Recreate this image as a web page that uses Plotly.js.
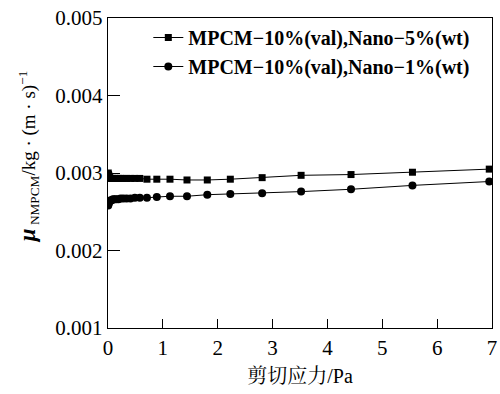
<!DOCTYPE html>
<html><head><meta charset="utf-8">
<script src="https://cdn.plot.ly/plotly-3.0.1.min.js"></script>
<style>body{margin:0;background:#fff}#chart{width:500px;height:394px}</style>
</head><body><div id="chart"></div>
<script>
var seriesNames = ['MPCM\u221210%(val),Nano\u22125%(wt)', 'MPCM\u221210%(val),Nano\u22121%(wt)'];
var xNano5 = [0.005,0.01,0.02,0.03,0.05,0.07,0.09,0.12,0.15,0.19,0.23,0.28,0.34,0.41,0.49,0.58,0.71,0.89,1.13,1.44,1.81,2.23,2.81,3.52,4.43,5.55,6.95];
var yNano5 = [0.00300,0.00298,0.00296,0.00294,0.00293,0.00293,0.00293,0.00293,0.00293,0.00293,0.00293,0.00293,0.00293,0.00293,0.00293,0.00293,0.00292,0.00292,0.00292,0.00291,0.00291,0.00292,0.00294,0.00297,0.00298,0.00301,0.00305];
var xNano1 = [0.005,0.01,0.02,0.03,0.05,0.07,0.09,0.12,0.15,0.19,0.23,0.28,0.34,0.41,0.49,0.58,0.71,0.89,1.13,1.44,1.81,2.23,2.81,3.52,4.43,5.55,6.95];
var yNano1 = [0.00258,0.00260,0.00262,0.00264,0.00265,0.00265,0.00266,0.00266,0.00266,0.00266,0.00267,0.00267,0.00267,0.00267,0.00268,0.00268,0.00268,0.00269,0.00270,0.00270,0.00272,0.00273,0.00274,0.00276,0.00279,0.00284,0.00289];
var xTicks = [0,1,2,3,4,5,6,7];
var yTicks = [0.001,0.002,0.003,0.004,0.005];
var xTitle = '剪切应力/Pa';
var yTitle = '<b><i><span style="font-size:23px">μ</span></i></b><sub> NMPCM</sub>/kg · (m · s)<sup>−1</sup>';

var font = 'Liberation Serif, Noto Serif CJK SC, Noto Sans CJK SC';
var traces = [
  {x: xNano5, y: yNano5, name: seriesNames[0], type: 'scatter', mode: 'lines+markers',
   line: {color: '#000', width: 1}, marker: {symbol: 'square', size: 7, color: '#000'}},
  {x: xNano1, y: yNano1, name: seriesNames[1], type: 'scatter', mode: 'lines+markers',
   line: {color: '#000', width: 1}, marker: {symbol: 'circle', size: 8, color: '#000'}}
];
var layout = {
  width: 500, height: 394,
  margin: {l: 108, r: 8, t: 18, b: 66},
  paper_bgcolor: '#fff', plot_bgcolor: '#fff',
  font: {family: font, color: '#000', size: 21},
  showlegend: true,
  legend: {x: 0.105, y: 1.0, xanchor: 'left', yanchor: 'top', bgcolor: 'rgba(0,0,0,0)',
    font: {family: font, size: 20, color: '#000', weight: 'bold'}, tracegroupgap: 0, itemwidth: 30},
  xaxis: {range: [0, 7], tickvals: xTicks, ticktext: xTicks.map(String),
    ticks: 'inside', ticklen: 9, tickwidth: 1, tickcolor: '#000',
    showline: true, linecolor: '#000', linewidth: 1.3, mirror: true,
    showgrid: false, zeroline: false,
    tickfont: {family: font, size: 21, color: '#000'},
    title: {text: xTitle, font: {family: font, size: 20, color: '#000'}, standoff: 10}},
  yaxis: {range: [0.001, 0.005], tickvals: yTicks, ticktext: yTicks.map(function(v){return v.toFixed(3);}),
    ticks: 'inside', ticklen: 12, tickwidth: 1, tickcolor: '#000',
    showline: true, linecolor: '#000', linewidth: 1.3, mirror: true,
    showgrid: false, zeroline: false,
    tickfont: {family: font, size: 21, color: '#000'}},
  annotations: [{text: yTitle, textangle: -90, xref: 'paper', yref: 'paper',
    x: -0.205, y: 0.555, xanchor: 'center', yanchor: 'middle', showarrow: false,
    font: {family: font, size: 19, color: '#000'}}]
};
Plotly.newPlot('chart', traces, layout, {displayModeBar: false, staticPlot: true});
</script></body></html>
